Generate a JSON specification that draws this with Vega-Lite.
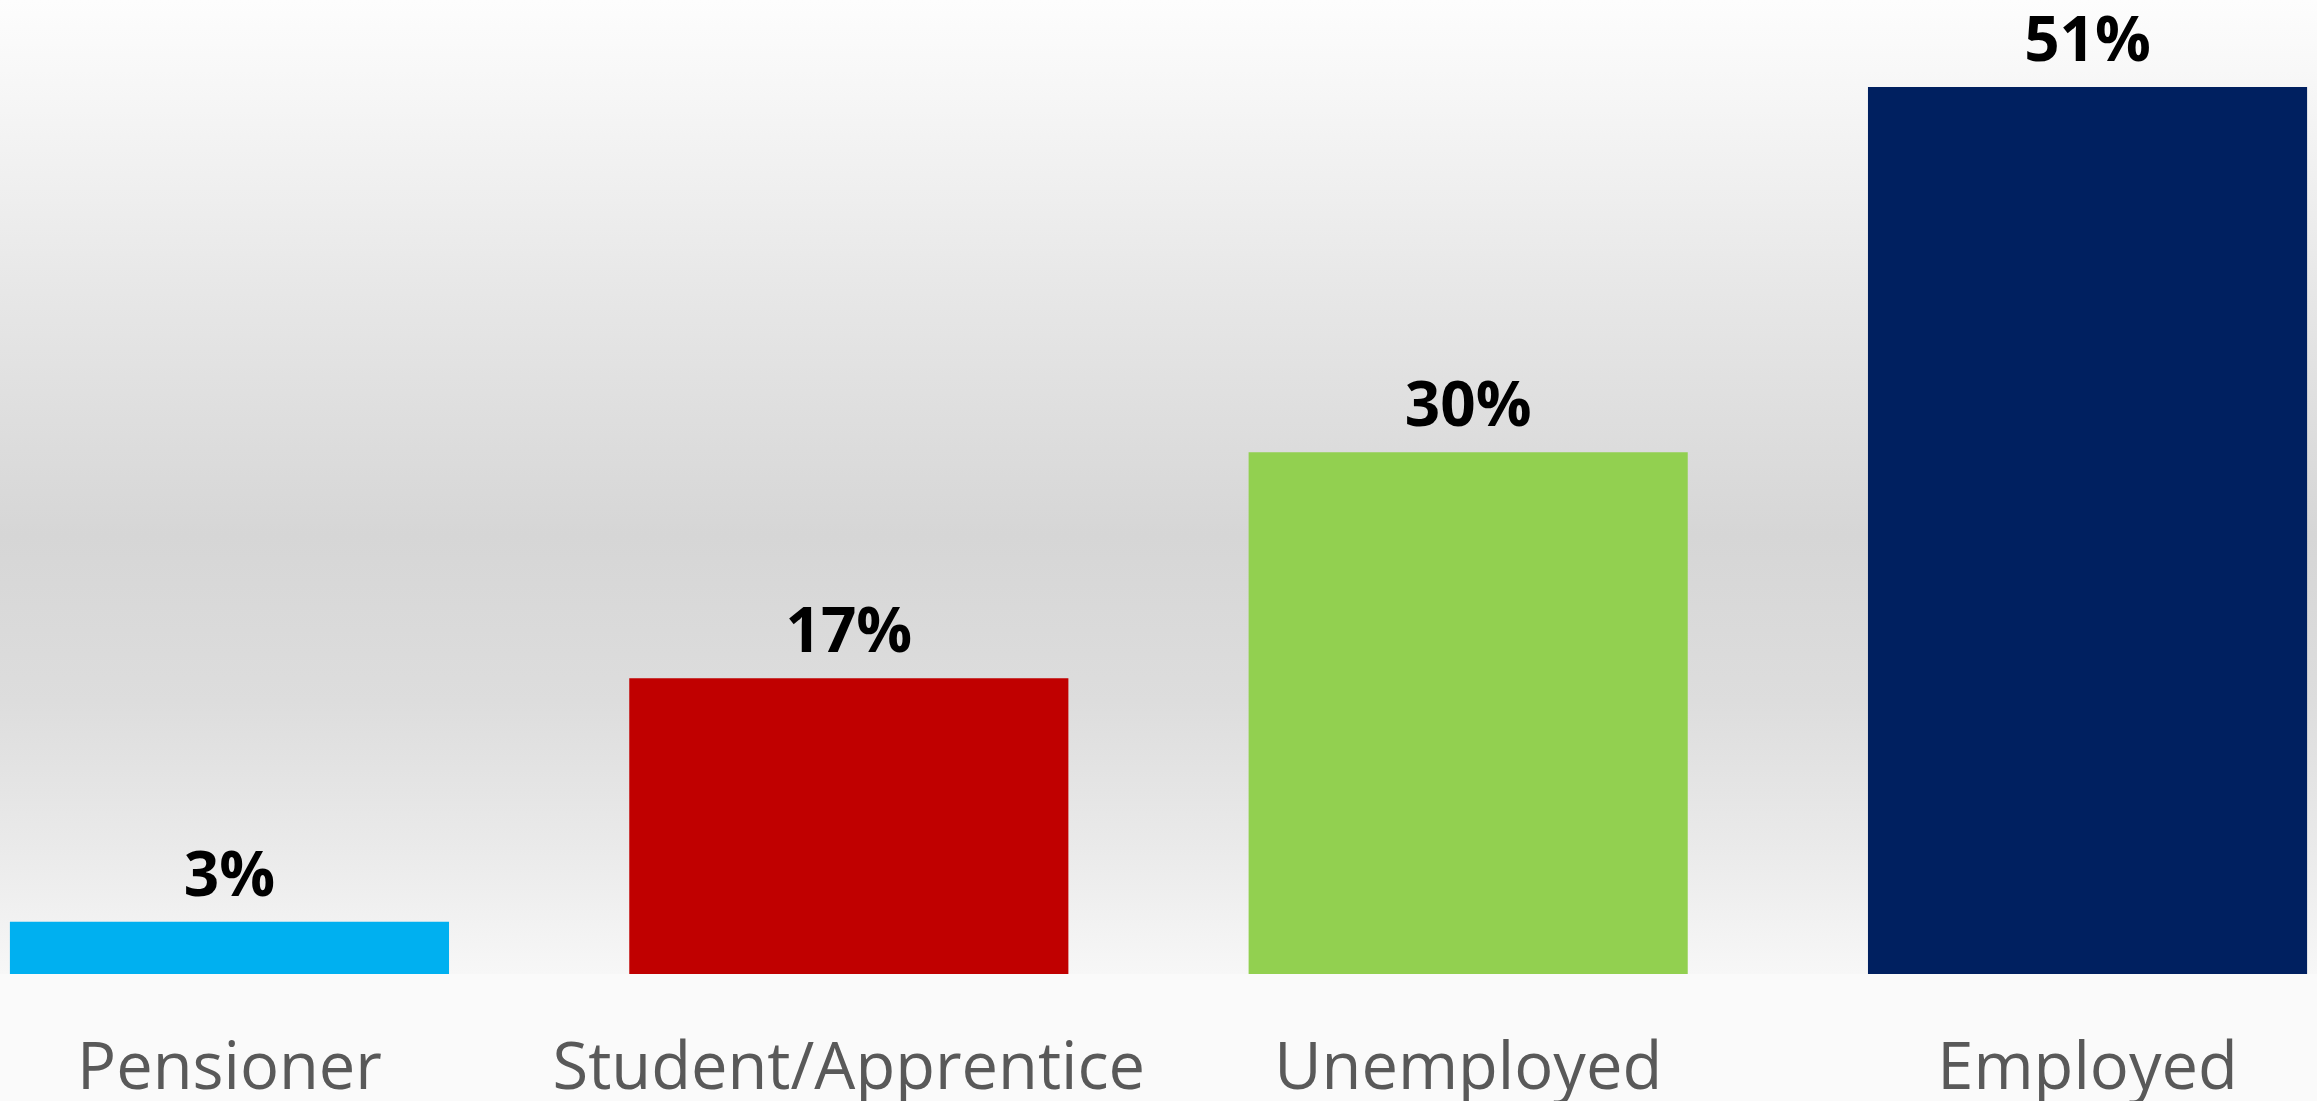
{
  "$schema": "https://vega.github.io/schema/vega-lite/v6.json",
  "width": 2317,
  "height": 974,
  "padding": 0,
  "background": "#fafafa",
  "config": {"view": {"stroke": null}},
  "datasets": {
    "status": [
      {"category": "Pensioner", "share": 0.03},
      {"category": "Student/Apprentice", "share": 0.17},
      {"category": "Unemployed", "share": 0.30},
      {"category": "Employed", "share": 0.51}
    ],
    "bg": [{"k": 1}]
  },
  "layer": [
    {
      "data": {"name": "bg"},
      "mark": {
        "type": "rect",
        "color": {
          "gradient": "linear",
          "x1": 0, "y1": 0, "x2": 0, "y2": 1,
          "stops": [
            {"offset": 0, "color": "#fdfdfd"},
            {"offset": 0.1, "color": "#f6f6f6"},
            {"offset": 0.3, "color": "#e7e7e7"},
            {"offset": 0.55, "color": "#d6d6d6"},
            {"offset": 0.72, "color": "#dddddd"},
            {"offset": 0.87, "color": "#eaeaea"},
            {"offset": 1, "color": "#f7f7f7"}
          ]
        }
      },
      "encoding": {
        "x": {"value": 0},
        "x2": {"value": "width"},
        "y": {"value": 0},
        "y2": {"value": "height"}
      }
    },
    {
      "data": {"name": "status"},
      "mark": {"type": "bar"},
      "encoding": {
        "x": {
          "field": "category", "type": "nominal", "sort": null,
          "scale": {"paddingInner": 0.291, "paddingOuter": 0.016},
          "axis": {
            "title": null, "ticks": false, "tickSize": 0, "domain": false, "grid": false,
            "labelAngle": 0, "labelFont": "Open Sans", "labelFontSize": 65,
            "labelColor": "#595959", "labelBaseline": "alphabetic", "labelPadding": 114,
            "labelLimit": 1000
          }
        },
        "y": {
          "field": "share", "type": "quantitative",
          "scale": {"domain": [0, 0.56], "nice": false, "zero": true},
          "axis": null
        },
        "color": {
          "field": "category", "type": "nominal", "legend": null,
          "scale": {
            "domain": ["Pensioner", "Student/Apprentice", "Unemployed", "Employed"],
            "range": ["#00b0f0", "#c00000", "#92d050", "#002060"]
          }
        }
      }
    },
    {
      "data": {"name": "status"},
      "mark": {
        "type": "text", "baseline": "alphabetic", "dy": -26,
        "font": "Open Sans", "fontWeight": "bold", "fontSize": 62, "color": "#000000"
      },
      "encoding": {
        "x": {"field": "category", "type": "nominal", "sort": null},
        "y": {"field": "share", "type": "quantitative"},
        "text": {"field": "share", "type": "quantitative", "format": ".0%"}
      }
    }
  ]
}
